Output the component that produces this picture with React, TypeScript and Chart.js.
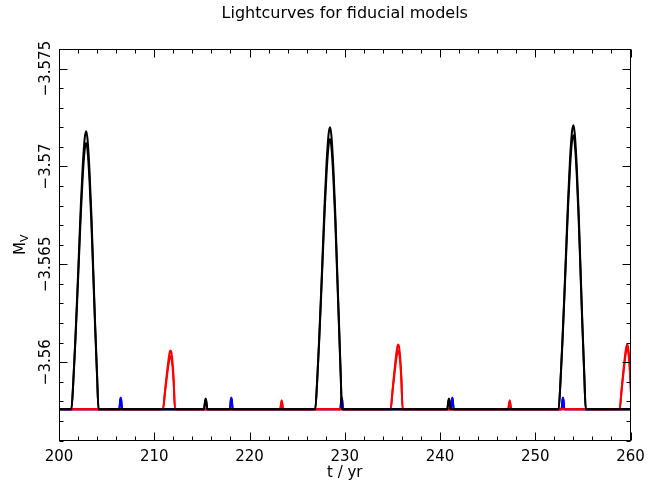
import { useEffect, useRef } from "react";
import { Chart, registerables } from "chart.js";

Chart.register(...registerables);

const TITLE = "Lightcurves for fiducial models";
const X_TITLE = "t / yr";
const Y_TITLE_MAIN = "M";
const Y_TITLE_SUB = "V";

const X_MIN = 200;
const X_MAX = 260;
const Y_MIN = -3.576;
const Y_MAX = -3.556;

const xTickValues = [200, 210, 220, 230, 240, 250, 260];
const xTickLabels = ["200", "210", "220", "230", "240", "250", "260"];
const X_MINOR_STEP = 2;
const yTickValues = [-3.575, -3.57, -3.565, -3.56];
const yTickLabels = ["\u22123.575", "\u22123.57", "\u22123.565", "\u22123.56"];
const Y_MINOR_STEP = 0.001;

// black model curves (shared time axis)
const blackT = [200,
  201.30, 201.50, 201.70, 201.90, 202.10, 202.30, 202.50, 202.70, 202.85, 203.00, 203.20, 203.40, 203.60, 203.80, 204.00, 204.15,
  215.22, 215.33, 215.40, 215.47, 215.58,
  226.90, 227.10, 227.30, 227.50, 227.70, 227.90, 228.10, 228.30, 228.45, 228.60, 228.80, 229.00, 229.20, 229.40, 229.58, 229.70,
  240.76, 240.87, 240.94, 241.01, 241.12,
  252.45, 252.65, 252.85, 253.05, 253.25, 253.45, 253.65, 253.85, 254.00, 254.15, 254.35, 254.55, 254.75, 254.95, 255.15, 255.30,
  260];
const blackA = [-3.5576,
  -3.5576, -3.55902, -3.56101, -3.56328, -3.56569, -3.56811, -3.57010, -3.57145, -3.5718, -3.57137, -3.56981, -3.56754, -3.56470, -3.56186, -3.55930, -3.5576,
  -3.5576, -3.5580, -3.55815, -3.5580, -3.5576,
  -3.5576, -3.55904, -3.56106, -3.56336, -3.56581, -3.56826, -3.57027, -3.57164, -3.5720, -3.57157, -3.56998, -3.56768, -3.56480, -3.56192, -3.55933, -3.5576,
  -3.5576, -3.5580, -3.55815, -3.5580, -3.5576,
  -3.5576, -3.55905, -3.56108, -3.56340, -3.56587, -3.56833, -3.57036, -3.57174, -3.5721, -3.57167, -3.57007, -3.56775, -3.56485, -3.56195, -3.55934, -3.5576,
  -3.5576];
const blackB = [-3.5576,
  -3.5576, -3.55896, -3.56086, -3.56304, -3.56535, -3.56766, -3.56957, -3.57086, -3.5712, -3.57079, -3.56930, -3.56712, -3.56440, -3.56168, -3.55923, -3.5576,
  -3.5576, -3.55795, -3.5581, -3.55795, -3.5576,
  -3.5576, -3.55898, -3.56091, -3.56312, -3.56547, -3.56781, -3.56974, -3.57106, -3.5714, -3.57099, -3.56947, -3.56726, -3.56450, -3.56174, -3.55926, -3.5576,
  -3.5576, -3.55795, -3.5581, -3.55795, -3.5576,
  -3.5576, -3.5590, -3.56096, -3.5632, -3.56558, -3.56796, -3.56992, -3.57125, -3.5716, -3.57118, -3.56964, -3.5674, -3.5646, -3.5618, -3.55928, -3.5576,
  -3.5576];

// red model curves
const redT = [200,
  210.92, 211.12, 211.32, 211.52, 211.64, 211.72, 211.80, 211.92, 212.04, 212.18,
  223.22, 223.32, 223.38, 223.44, 223.54,
  234.82, 235.02, 235.22, 235.42, 235.54, 235.62, 235.70, 235.82, 235.94, 236.08,
  247.16, 247.26, 247.32, 247.38, 247.48,
  258.86, 259.06, 259.26, 259.46, 259.58, 259.66, 259.74, 259.86, 259.98, 260.12];
const redA = [-3.5576,
  -3.5576, -3.5585, -3.5594, -3.56021, -3.56054, -3.5606, -3.56051, -3.5600, -3.5591, -3.5576,
  -3.5576, -3.5579, -3.55805, -3.5579, -3.5576,
  -3.5576, -3.55859, -3.55958, -3.56047, -3.56083, -3.5609, -3.56080, -3.56024, -3.55925, -3.5576,
  -3.5576, -3.5579, -3.55805, -3.5579, -3.5576,
  -3.5576, -3.55859, -3.55958, -3.56047, -3.56083, -3.5609, -3.56080, -3.56024, -3.55925, -3.5576];
const redB = [-3.5576,
  -3.5576, -3.55841, -3.55922, -3.55995, -3.56025, -3.5603, -3.56022, -3.55976, -3.55895, -3.5576,
  -3.5576, -3.55785, -3.55798, -3.55785, -3.5576,
  -3.5576, -3.5585, -3.5594, -3.56021, -3.56054, -3.5606, -3.56051, -3.5600, -3.5591, -3.5576,
  -3.5576, -3.55785, -3.55798, -3.55785, -3.5576,
  -3.5576, -3.55853, -3.55946, -3.5603, -3.56064, -3.5607, -3.56061, -3.56008, -3.55915, -3.5576];

// blue model curves
const blueT = [200,
  206.33, 206.43, 206.48, 206.53, 206.63,
  217.94, 218.04, 218.09, 218.14, 218.24,
  229.53, 229.63, 229.68, 229.73, 229.83,
  241.14, 241.24, 241.29, 241.34, 241.44,
  252.76, 252.86, 252.91, 252.96, 253.06,
  260];
const blueA = [-3.5576,
  -3.5576, -3.5581, -3.5582, -3.5581, -3.5576,
  -3.5576, -3.5581, -3.5582, -3.5581, -3.5576,
  -3.5576, -3.5581, -3.5582, -3.5581, -3.5576,
  -3.5576, -3.5581, -3.5582, -3.5581, -3.5576,
  -3.5576, -3.5581, -3.5582, -3.5581, -3.5576,
  -3.5576];
const blueB = [-3.5576,
  -3.5576, -3.55805, -3.55815, -3.55805, -3.5576,
  -3.5576, -3.55805, -3.55815, -3.55805, -3.5576,
  -3.5576, -3.55805, -3.55815, -3.55805, -3.5576,
  -3.5576, -3.55805, -3.55815, -3.55805, -3.5576,
  -3.5576, -3.55805, -3.55815, -3.55805, -3.5576,
  -3.5576];

const FONT = '"DejaVu Sans", sans-serif';

function pts(t: number[], m: number[]) {
  return t.map((v, i) => ({ x: v, y: m[i] }));
}

function line(label: string, t: number[], m: number[], color: string) {
  return {
    label,
    data: pts(t, m),
    borderColor: color,
    backgroundColor: color,
    borderWidth: 2,
    pointRadius: 0,
    fill: false,
    cubicInterpolationMode: "monotone" as const,
  };
}

const framePlugin = {
  id: "pgframe",
  afterDraw(chart: any) {
    const { ctx, chartArea: a } = chart;
    const xs = chart.scales.x;
    const ys = chart.scales.y;
    const L = Math.round(a.left) + 0.5;
    const R = Math.round(a.right) - 0.5;
    const T = Math.round(a.top) + 0.5;
    const B = Math.round(a.bottom) - 0.5;
    ctx.save();
    ctx.strokeStyle = "#000";
    ctx.lineWidth = 1;
    ctx.strokeRect(L, T, R - L, B - T);

    ctx.beginPath();
    // x ticks (inward, top and bottom)
    for (let v = X_MIN; v <= X_MAX + 1e-9; v += X_MINOR_STEP) {
      const major = xTickValues.some((t) => Math.abs(t - v) < 1e-6);
      const len = major ? 8 : 4;
      const px = Math.round(xs.getPixelForValue(v)) + 0.5;
      ctx.moveTo(px, B);
      ctx.lineTo(px, B - len);
      ctx.moveTo(px, T);
      ctx.lineTo(px, T + len);
    }
    // y ticks (inward, left and right)
    for (let k = 0; k <= Math.round((Y_MAX - Y_MIN) / Y_MINOR_STEP); k++) {
      const v = Y_MIN + k * Y_MINOR_STEP;
      const major = yTickValues.some((t) => Math.abs(t - v) < 1e-7);
      const len = major ? 8 : 4;
      const py = Math.round(ys.getPixelForValue(v)) + 0.5;
      ctx.moveTo(L, py);
      ctx.lineTo(L + len, py);
      ctx.moveTo(R, py);
      ctx.lineTo(R - len, py);
    }
    ctx.stroke();

    ctx.fillStyle = "#000";
    // x tick labels
    ctx.font = `15px ${FONT}`;
    ctx.textAlign = "center";
    ctx.textBaseline = "alphabetic";
    xTickValues.forEach((v, i) => {
      ctx.fillText(xTickLabels[i], xs.getPixelForValue(v), 461);
    });
    // y tick labels (rotated)
    yTickValues.forEach((v, i) => {
      const py = ys.getPixelForValue(v);
      ctx.save();
      ctx.translate(50, py);
      ctx.rotate(-Math.PI / 2);
      ctx.fillText(yTickLabels[i], 0, 0);
      ctx.restore();
    });
    // x title
    ctx.fillText(X_TITLE, (a.left + a.right) / 2, 477);
    // main title
    ctx.font = `16px ${FONT}`;
    ctx.fillText(TITLE, (a.left + a.right) / 2, 18);
    // y title with subscript
    ctx.save();
    ctx.translate(25, (a.top + a.bottom) / 2);
    ctx.rotate(-Math.PI / 2);
    ctx.font = `15px ${FONT}`;
    const wM = ctx.measureText(Y_TITLE_MAIN).width;
    ctx.font = `11px ${FONT}`;
    const wV = ctx.measureText(Y_TITLE_SUB).width;
    const start = -(wM + wV) / 2;
    ctx.textAlign = "left";
    ctx.font = `15px ${FONT}`;
    ctx.fillText(Y_TITLE_MAIN, start, 0);
    ctx.font = `11px ${FONT}`;
    ctx.fillText(Y_TITLE_SUB, start + wM, 3);
    ctx.restore();

    ctx.restore();
  },
};

export default function App() {
  const ref = useRef<HTMLCanvasElement | null>(null);
  useEffect(() => {
    if (!ref.current) return;
    const chart = new Chart(ref.current, {
      type: "line",
      data: {
        datasets: [
          line("black A", blackT, blackA, "#000000"),
          line("black B", blackT, blackB, "#000000"),
          line("red A", redT, redA, "#ff0000"),
          line("red B", redT, redB, "#ff0000"),
          line("blue A", blueT, blueA, "#0000ff"),
          line("blue B", blueT, blueB, "#0000ff"),
        ] as any,
      },
      options: {
        animation: false,
        responsive: false,
        maintainAspectRatio: false,
        layout: { padding: { left: 59, right: 36.5, top: 49, bottom: 58.5 } },
        scales: {
          x: { type: "linear", min: X_MIN, max: X_MAX, display: false },
          y: { type: "linear", min: Y_MIN, max: Y_MAX, reverse: true, display: false },
        },
        plugins: {
          legend: { display: false },
          title: { display: false },
          tooltip: { enabled: false },
        },
        events: [],
      },
      plugins: [framePlugin],
    });
    return () => chart.destroy();
  }, []);
  return (
    <div style={{ position: "fixed", left: 0, top: 0, width: 667, height: 499, background: "#fff" }}>
      <canvas ref={ref} width={667} height={499} style={{ display: "block" }} />
    </div>
  );
}
